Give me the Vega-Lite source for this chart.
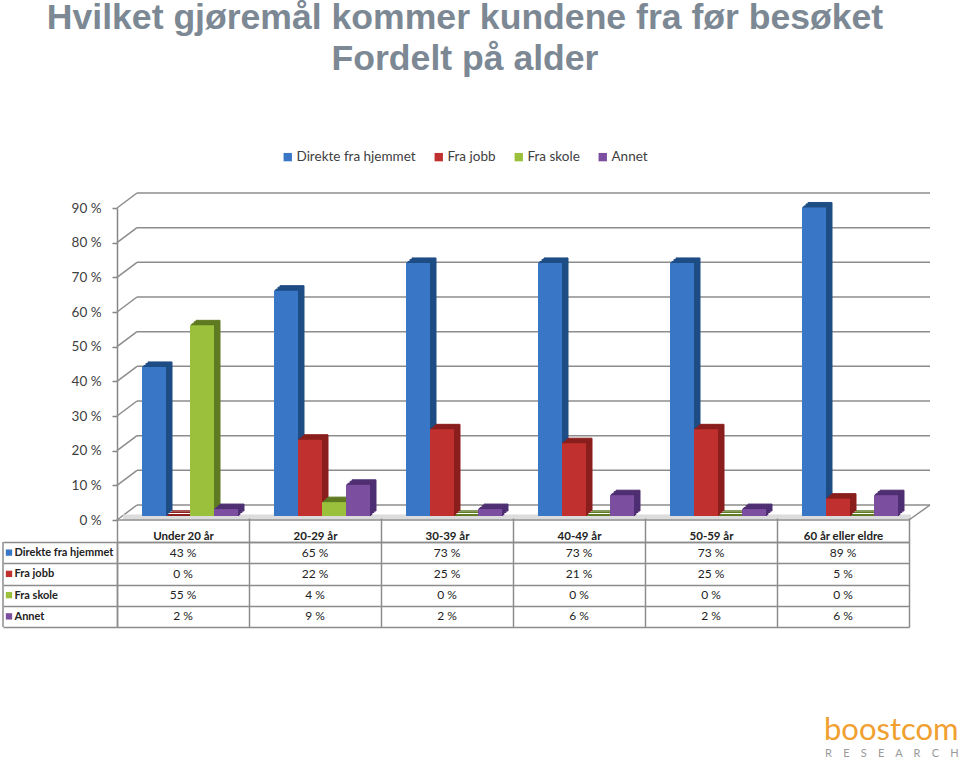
{
"$schema":"https://vega.github.io/schema/vega-lite/v6.json",
"background":"white",
"padding":{"left":2,"top":1,"right":0,"bottom":0},
"spacing":-10,
"config":{"view":{"stroke":null},"font":"Lato","axisY":{"title":null}},
"title":{"text":["Hvilket gjøremål kommer kundene fra før besøket","Fordelt på alder"],"font":"Liberation Sans","fontSize":35.6,"fontWeight":"bold","color":"#7c8894","lineHeight":41,"anchor":"middle","frame":"group","dx":-48,"offset":72},
"datasets":{
"rows":[
{"group":"Under 20 år","series":"Direkte fra hjemmet","value":43,"label":"43 %"},
{"group":"Under 20 år","series":"Fra jobb","value":0,"label":"0 %"},
{"group":"Under 20 år","series":"Fra skole","value":55,"label":"55 %"},
{"group":"Under 20 år","series":"Annet","value":2,"label":"2 %"},
{"group":"20-29 år","series":"Direkte fra hjemmet","value":65,"label":"65 %"},
{"group":"20-29 år","series":"Fra jobb","value":22,"label":"22 %"},
{"group":"20-29 år","series":"Fra skole","value":4,"label":"4 %"},
{"group":"20-29 år","series":"Annet","value":9,"label":"9 %"},
{"group":"30-39 år","series":"Direkte fra hjemmet","value":73,"label":"73 %"},
{"group":"30-39 år","series":"Fra jobb","value":25,"label":"25 %"},
{"group":"30-39 år","series":"Fra skole","value":0,"label":"0 %"},
{"group":"30-39 år","series":"Annet","value":2,"label":"2 %"},
{"group":"40-49 år","series":"Direkte fra hjemmet","value":73,"label":"73 %"},
{"group":"40-49 år","series":"Fra jobb","value":21,"label":"21 %"},
{"group":"40-49 år","series":"Fra skole","value":0,"label":"0 %"},
{"group":"40-49 år","series":"Annet","value":6,"label":"6 %"},
{"group":"50-59 år","series":"Direkte fra hjemmet","value":73,"label":"73 %"},
{"group":"50-59 år","series":"Fra jobb","value":25,"label":"25 %"},
{"group":"50-59 år","series":"Fra skole","value":0,"label":"0 %"},
{"group":"50-59 år","series":"Annet","value":2,"label":"2 %"},
{"group":"60 år eller eldre","series":"Direkte fra hjemmet","value":89,"label":"89 %"},
{"group":"60 år eller eldre","series":"Fra jobb","value":5,"label":"5 %"},
{"group":"60 år eller eldre","series":"Fra skole","value":0,"label":"0 %"},
{"group":"60 år eller eldre","series":"Annet","value":6,"label":"6 %"}
],
"ticks":[{"v":0},{"v":10},{"v":20},{"v":30},{"v":40},{"v":50},{"v":60},{"v":70},{"v":80},{"v":90}],
"zero":[{"v":0}],
"series":[{"series":"Direkte fra hjemmet"},{"series":"Fra jobb"},{"series":"Fra skole"},{"series":"Annet"}],
"logo":[{"logo":"boostcom","sub":"R\u00a0\u00a0\u00a0\u00a0E\u00a0\u00a0\u00a0\u00a0S\u00a0\u00a0\u00a0\u00a0E\u00a0\u00a0\u00a0\u00a0A\u00a0\u00a0\u00a0\u00a0R\u00a0\u00a0\u00a0\u00a0C\u00a0\u00a0\u00a0\u00a0H"}]
},
"vconcat":[
{"width":792,"height":312,
 "resolve":{"scale":{"x":"independent","xOffset":"independent"},"axis":{"y":"shared"},"legend":{"color":"independent"}},
 "layer":[
  {"data":{"name":"rows"},"mark":{"type":"bar","opacity":0},
   "encoding":{"x":{"field":"group","type":"nominal","sort":null,"scale":{"paddingInner":0,"paddingOuter":0},"axis":null},
    "y":{"field":"value","type":"quantitative","scale":{"domain":[0,90]},"axis":{"title":null,"values":[0,10,20,30,40,50,60,70,80,90],"tickCount":10,"labelOverlap":false,"labelExpr":"datum.value + ' %'","labelFont":"Lato","labelFontSize":13.5,"labelColor":"#404040","labelPadding":11,"tickColor":"#868686","tickSize":5,"domainColor":"#868686","domainWidth":1.5,"tickWidth":1.5,"grid":false}},
    "color":{"field":"series","type":"nominal","scale":{"domain":["Direkte fra hjemmet","Fra jobb","Fra skole","Annet"],"range":["#3a76c6","#c0302e","#9bc13c","#7c4ea0"]},"legend":{"title":null,"orient":"none","legendX":164,"legendY":-58,"direction":"horizontal","columns":4,"symbolType":"square","symbolSize":70,"symbolOpacity":1,"labelFont":"Lato","labelFontSize":13.5,"labelOffset":2,"labelColor":"#404040","columnPadding":16}}}},
  {"data":{"name":"ticks"},"mark":{"type":"rule","color":"#8c8c8c","strokeWidth":1.5,"xOffset":20,"x2Offset":21,"yOffset":-15,"y2Offset":-15},
   "encoding":{"x":{"datum":0,"type":"quantitative","scale":{"domain":[0,6]},"axis":null},"x2":{"datum":6},"y":{"field":"v","type":"quantitative"},"y2":{"field":"v"}}},
  {"data":{"name":"ticks"},"mark":{"type":"rule","color":"#8c8c8c","strokeWidth":1.5,"x2Offset":20,"y2Offset":-15},
   "encoding":{"x":{"datum":0,"type":"quantitative","scale":{"domain":[0,6]},"axis":null},"x2":{"datum":0},"y":{"field":"v","type":"quantitative"},"y2":{"field":"v"}}},
  {"data":{"name":"zero"},"mark":{"type":"rule","color":"#dcdcdc","strokeWidth":5,"yOffset":-3,"y2Offset":-3,"xOffset":6,"x2Offset":2},
   "encoding":{"x":{"datum":0,"type":"quantitative","scale":{"domain":[0,6]},"axis":null},"x2":{"datum":6},"y":{"field":"v","type":"quantitative"},"y2":{"field":"v"}}},
  {"data":{"name":"zero"},"mark":{"type":"rule","color":"#8c8c8c","strokeWidth":1.5},
   "encoding":{"x":{"datum":0,"type":"quantitative","scale":{"domain":[0,6]},"axis":null},"x2":{"datum":6},"y":{"field":"v","type":"quantitative"},"y2":{"field":"v"}}},
  {"data":{"name":"zero"},"mark":{"type":"rule","color":"#8c8c8c","strokeWidth":1.5,"x2Offset":21,"y2Offset":-15},
   "encoding":{"x":{"datum":6,"type":"quantitative","scale":{"domain":[0,6]},"axis":null},"x2":{"datum":6},"y":{"field":"v","type":"quantitative"},"y2":{"field":"v"}}},
  {"data":{"name":"rows"},"mark":{"type":"bar","yOffset":-9,"y2Offset":-9,"strokeWidth":1},
   "encoding":{"x":{"field":"group","type":"nominal","sort":null,"scale":{"paddingInner":0,"paddingOuter":0},"axis":null},
    "xOffset":{"field":"series","type":"nominal","sort":null,"scale":{"domain":["Direkte fra hjemmet","Fra jobb","Fra skole","Annet"],"range":[31,127],"paddingInner":0,"paddingOuter":0}},
    "y":{"field":"value","type":"quantitative"},
    "fill":{"field":"series","type":"nominal","legend":null,"scale":{"domain":["Direkte fra hjemmet","Fra jobb","Fra skole","Annet"],"range":["#1f4d85","#8a1f1d","#5f7a22","#4f2f72"]}},
    "stroke":{"field":"series","type":"nominal","legend":null,"scale":{"domain":["Direkte fra hjemmet","Fra jobb","Fra skole","Annet"],"range":["#1f4d85","#8a1f1d","#5f7a22","#4f2f72"]}}}},
  {"data":{"name":"rows"},"mark":{"type":"bar","yOffset":-7.5,"y2Offset":-7.5,"strokeWidth":1},
   "encoding":{"x":{"field":"group","type":"nominal","sort":null,"scale":{"paddingInner":0,"paddingOuter":0},"axis":null},
    "xOffset":{"field":"series","type":"nominal","sort":null,"scale":{"domain":["Direkte fra hjemmet","Fra jobb","Fra skole","Annet"],"range":[29,125],"paddingInner":0,"paddingOuter":0}},
    "y":{"field":"value","type":"quantitative"},
    "fill":{"field":"series","type":"nominal","legend":null},
    "stroke":{"field":"series","type":"nominal","legend":null}}},
  {"data":{"name":"rows"},"mark":{"type":"bar","yOffset":-5.5,"y2Offset":-5.5,"strokeWidth":1},
   "encoding":{"x":{"field":"group","type":"nominal","sort":null,"scale":{"paddingInner":0,"paddingOuter":0},"axis":null},
    "xOffset":{"field":"series","type":"nominal","sort":null,"scale":{"domain":["Direkte fra hjemmet","Fra jobb","Fra skole","Annet"],"range":[27,123],"paddingInner":0,"paddingOuter":0}},
    "y":{"field":"value","type":"quantitative"},
    "fill":{"field":"series","type":"nominal","legend":null},
    "stroke":{"field":"series","type":"nominal","legend":null}}},
  {"data":{"name":"rows"},"mark":{"type":"bar","yOffset":-4.5,"y2Offset":-4.5,"strokeWidth":1},
   "encoding":{"x":{"field":"group","type":"nominal","sort":null,"scale":{"paddingInner":0,"paddingOuter":0},"axis":null},
    "xOffset":{"field":"series","type":"nominal","sort":null,"scale":{"domain":["Direkte fra hjemmet","Fra jobb","Fra skole","Annet"],"range":[26,122],"paddingInner":0,"paddingOuter":0}},
    "y":{"field":"value","type":"quantitative"},
    "fill":{"field":"series","type":"nominal","legend":null},
    "stroke":{"field":"series","type":"nominal","legend":null}}},
  {"data":{"name":"rows"},"mark":{"type":"bar","yOffset":-4,"y2Offset":-4},
   "encoding":{"x":{"field":"group","type":"nominal","sort":null,"scale":{"paddingInner":0,"paddingOuter":0},"axis":null},
    "xOffset":{"field":"series","type":"nominal","sort":null,"scale":{"domain":["Direkte fra hjemmet","Fra jobb","Fra skole","Annet"],"range":[25,121],"paddingInner":0,"paddingOuter":0}},
    "y":{"field":"value","type":"quantitative"},
    "color":{"field":"series","type":"nominal","legend":null}}}
 ]},
{"width":792,"height":85,
 "layer":[
  {"data":{"name":"rows"},"mark":{"type":"text","font":"Lato","fontSize":12,"color":"#222222"},
   "encoding":{
    "x":{"field":"group","type":"nominal","sort":null,"scale":{"paddingInner":0,"paddingOuter":0},"axis":{"orient":"top","title":null,"labelAngle":0,"labelFont":"Lato","labelFontWeight":"bold","labelFontSize":11.5,"labelColor":"#222222","labelPadding":-23,"tickBand":"extent","tickSize":24,"tickColor":"#8c8c8c","tickWidth":1.5,"domainColor":"#8c8c8c","domainWidth":1.5,"grid":true,"gridColor":"#8c8c8c","gridWidth":1.5}},
    "y":{"field":"series","type":"nominal","scale":{"domain":["Direkte fra hjemmet","Fra jobb","Fra skole","Annet"],"paddingInner":0,"paddingOuter":0},"axis":{"title":null,"tickBand":"extent","tickSize":114,"tickColor":"#8c8c8c","tickWidth":1.5,"domainColor":"#8c8c8c","domainWidth":1.5,"labelAlign":"left","labelPadding":-11,"labelFont":"Lato","labelFontWeight":"bold","labelFontSize":11,"labelColor":"#222222","grid":true,"gridColor":"#8c8c8c","gridWidth":1.5}},
    "text":{"field":"label","type":"nominal"}
   }},
  {"data":{"name":"series"},"mark":{"type":"point","shape":"square","filled":true,"size":40,"xOffset":-174,"opacity":1},
   "encoding":{"x":{"datum":"Under 20 år","type":"nominal"},"y":{"field":"series","type":"nominal"},"color":{"field":"series","type":"nominal","legend":null,"scale":{"domain":["Direkte fra hjemmet","Fra jobb","Fra skole","Annet"],"range":["#3a76c6","#c0302e","#9bc13c","#7c4ea0"]}}}},
  {"data":{"name":"zero"},"mark":{"type":"rule","color":"#8c8c8c","strokeWidth":1.5,"xOffset":-180},
   "encoding":{"x":{"datum":"Under 20 år","type":"nominal"}}},
  {"data":{"name":"logo"},"mark":{"type":"text","font":"Lato","fontSize":31,"align":"left","color":"#f0a030","xOffset":-19,"yOffset":146},
   "encoding":{"x":{"datum":"60 år eller eldre","type":"nominal"},"text":{"field":"logo","type":"nominal"}}},
  {"data":{"name":"logo"},"mark":{"type":"text","font":"Lato","fontSize":11,"align":"left","color":"#9a9a9a","xOffset":-18,"yOffset":169},
   "encoding":{"x":{"datum":"60 år eller eldre","type":"nominal"},"text":{"field":"sub","type":"nominal"}}}
 ]}
]
}
